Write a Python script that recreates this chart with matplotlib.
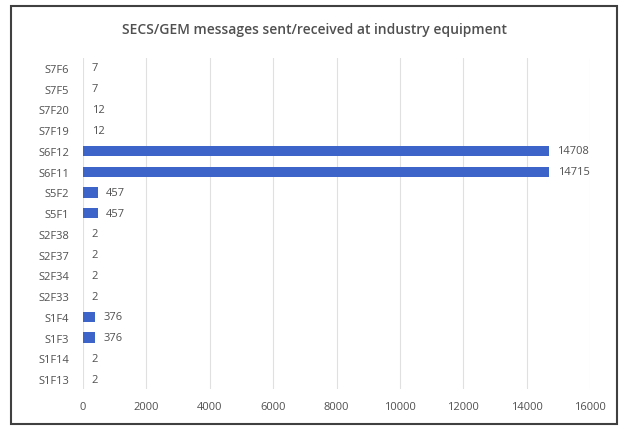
import matplotlib.pyplot as plt
from matplotlib.patches import Rectangle

plt.rcParams["font.family"] = ["Open Sans", "DejaVu Sans"]

messages = ["S1F13", "S1F14", "S1F3", "S1F4", "S2F33", "S2F34", "S2F37", "S2F38",
            "S5F1", "S5F2", "S6F11", "S6F12", "S7F19", "S7F20", "S7F5", "S7F6"]
counts = [2, 2, 376, 376, 2, 2, 2, 2, 457, 457, 14715, 14708, 12, 12, 7, 7]
xticks = [0, 2000, 4000, 6000, 8000, 10000, 12000, 14000, 16000]

text_color = "#505050"

fig = plt.figure(figsize=(6.29, 4.31), dpi=100)
ax = fig.add_axes([0.132, 0.094, 0.806, 0.77])

bars = ax.barh(messages, counts, height=0.5, color="#3d64c8", zorder=3)
for bar, v in zip(bars, counts):
    ax.annotate(str(v), (bar.get_width(), bar.get_y() + bar.get_height() / 2),
                xytext=(6, 0), textcoords="offset points", va="center", ha="left",
                fontsize=8, color=text_color)

ax.set_xlim(0, 16000)
ax.set_ylim(-0.5, len(messages) - 0.5)
ax.set_xticks(xticks)
ax.grid(axis="x", color="#e0e0e0", linewidth=0.8, zorder=0)
for s in ax.spines.values():
    s.set_visible(False)
ax.tick_params(length=0, labelsize=8, labelcolor=text_color)
ax.tick_params(axis="x", pad=8)
ax.tick_params(axis="y", pad=10)

fig.text(0.5, 0.93, "SECS/GEM messages sent/received at industry equipment",
         ha="center", va="center", fontsize=10, fontweight="semibold", color=text_color)

fig.patches.append(Rectangle((11 / 629, 1 - 425 / 431), 606 / 629, 418 / 431,
                             transform=fig.transFigure, fill=False,
                             edgecolor="#404040", linewidth=1.5))

fig.savefig("out.png", dpi=100)
